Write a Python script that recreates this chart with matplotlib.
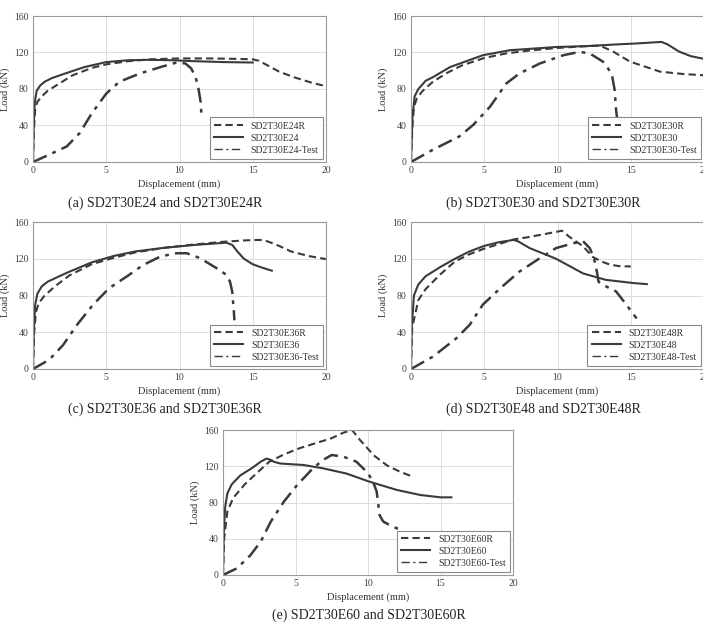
import matplotlib
matplotlib.use("Agg")
from matplotlib import pyplot as plt

# (a) E24
a_r_x = [0, 0.06, 0.15, 0.3, 0.6, 1, 1.8, 2.7, 4, 5, 6.5, 8, 10, 12, 14, 15, 15.4, 16, 16.8, 17.8, 19, 20]
a_r_y = [0, 35, 58, 66, 72, 78, 86, 95, 103, 107, 110.5, 112.5, 113.5, 113.5, 113, 112.5, 111, 106, 99, 93, 87, 83]
a_s_x = [0, 0.05, 0.12, 0.25, 0.5, 0.8, 1.3, 2.2, 3.5, 5, 6.5, 8, 9.5, 11, 13, 15]
a_s_y = [0, 40, 65, 78, 84, 88, 92, 97, 104, 109.5, 111.5, 112, 111.5, 110.5, 109.5, 109]
a_t_x = [0, 1.1, 2.3, 3.2, 4.0, 5.0, 5.9, 7.3, 8.7, 9.8, 10.4, 10.8, 11.1, 11.3, 11.45, 11.5]
a_t_y = [0, 8, 17, 32, 53, 75, 88, 97, 104, 109, 108, 102.5, 93, 80, 65, 50]

# (b) E30
b_r_x = [0, 0.1, 0.2, 0.4, 0.8, 1.5, 2.5, 3.5, 5, 6.5, 8, 10, 12, 12.9, 13.8, 14.95, 17, 18.6, 20]
b_r_y = [0, 40, 60, 70, 78, 88, 98, 106, 114, 119, 122, 125, 127, 127.5, 121, 110, 99, 96.4, 95]
b_s_x = [0, 0.1, 0.25, 0.5, 1, 1.5, 2.66, 4.9, 6.75, 9.9, 12, 13.6, 15.5, 17.1, 17.5, 18.3, 19.1, 20]
b_s_y = [0, 50, 72, 80, 89, 93, 104, 117, 122.5, 126, 127, 128.5, 130, 131.6, 129, 121, 116, 113]
b_t_x = [0, 1.5, 3.3, 4.25, 5.4, 6.5, 7.4, 8.8, 10.4, 11.5, 12.2, 13.1, 13.7, 13.9, 14.0, 14.2, 14.4]
b_t_y = [0, 13.5, 28, 40.7, 60.7, 86, 97, 108, 117, 120.7, 119, 110, 97, 79, 57, 30, 3]

# (c) E36
c_r_x = [0, 0.08, 0.2, 0.4, 0.8, 1.5, 2.5, 4, 5.5, 7, 9, 11, 13, 14.5, 15.5, 16, 16.8, 17.6, 18.8, 20]
c_r_y = [0, 40, 62, 72, 80, 90, 102, 114, 121, 127, 132, 135.5, 138.5, 140, 140.5, 139, 134, 128, 123, 119.6]
c_s_x = [0, 0.05, 0.15, 0.3, 0.6, 1, 1.8, 2.5, 4, 5.5, 7, 9, 11, 13.2, 13.6, 14, 14.4, 15, 15.6, 16.3]
c_s_y = [0, 40, 70, 82, 90, 95, 101, 106, 116, 123, 128, 132, 135, 137.5, 135, 127, 120, 114, 110.5, 107]
c_t_x = [0, 1.1, 2.05, 3.0, 4.1, 5.2, 6.4, 7.5, 8.7, 9.8, 10.5, 11.4, 12.5, 13.2, 13.45, 13.6, 13.7, 13.75]
c_t_y = [0, 10, 26, 48, 70, 88, 100.7, 113, 122.5, 126, 126, 120.7, 110, 102.5, 95, 84, 65, 53]

# (d) E48
d_r_x = [0, 0.08, 0.5, 1, 2, 3, 4, 5, 6, 7, 8, 9, 10, 10.3, 10.8, 11.75, 12.4, 13, 13.6, 14.2, 15]
d_r_y = [0, 45, 75, 87, 103, 117, 125, 131, 136, 141, 143.5, 146.5, 149.5, 150.5, 144, 133.5, 122, 117, 113.5, 112, 111.6]
d_s_x = [0, 0.05, 0.2, 0.5, 1, 2, 3, 4, 5, 6, 7, 7.3, 8.1, 9.9, 11.75, 13.3, 15.2, 16.1]
d_s_y = [0, 45, 80, 92, 101, 111, 120, 128, 134, 138, 140.5, 139, 131.6, 120, 104, 97, 93.5, 92.4]
d_t_x = [0, 1.5, 3.1, 4.0, 4.9, 6.1, 7.4, 8.8, 9.9, 11.1, 11.75, 12.2, 12.5, 12.7, 12.8, 13.1, 14.0, 14.7, 15.4]
d_t_y = [0, 13.5, 33.5, 48, 70, 88, 106, 120.7, 131.6, 137, 139, 131.6, 120, 105, 95, 91.6, 84.4, 70, 55]

# (e) E60
e_r_x = [0, 0.08, 0.3, 0.7, 1.5, 2.5, 3.2, 4.2, 5.3, 6.5, 7.5, 8.3, 8.9, 9.45, 10.4, 11.3, 12.2, 13.0]
e_r_y = [0, 40, 70, 85, 100, 115, 125, 133, 140, 146, 151, 157, 160, 149, 132, 121, 114, 109]
e_s_x = [0, 0.05, 0.15, 0.3, 0.6, 1.2, 2, 2.6, 3.0, 3.3, 3.5, 3.95, 5.55, 6.9, 8.5, 10.1, 12.0, 13.6, 15.0, 15.75]
e_s_y = [0, 45, 75, 90, 100, 110, 118, 125, 128.5, 127, 125, 123, 121.4, 117.7, 112, 103, 93.8, 88.3, 85.7, 85.7]
e_t_x = [0, 0.96, 1.9, 2.6, 3.3, 4.2, 5.1, 6.2, 6.9, 7.5, 8.3, 9.2, 9.9, 10.3, 10.6, 10.8, 11.05, 11.7, 12.3]
e_t_y = [0, 7.4, 22, 36.8, 59, 81, 99, 117.7, 127, 132.4, 130.6, 125, 114, 105, 92, 66, 59, 53.3, 49.7]

names = ["E24", "E30", "E36", "E48", "E60"]
letters = ["a", "b", "c", "d", "e"]
curves = [
  (a_r_x, a_r_y, a_s_x, a_s_y, a_t_x, a_t_y),
  (b_r_x, b_r_y, b_s_x, b_s_y, b_t_x, b_t_y),
  (c_r_x, c_r_y, c_s_x, c_s_y, c_t_x, c_t_y),
  (d_r_x, d_r_y, d_s_x, d_s_y, d_t_x, d_t_y),
  (e_r_x, e_r_y, e_s_x, e_s_y, e_t_x, e_t_y),
]
x_ticks = [0, 5, 10, 15, 20]
y_ticks = [0, 40, 80, 120, 160]

W, H = 703, 622
# axes boxes in pixels: left, top, width, height
boxes = [(33, 16, 293, 146), (411, 16, 293, 146),
         (33, 222, 293, 147), (411, 222, 293, 147),
         (223, 430, 290, 145)]
captions = [(165, 203), (543, 203), (165, 409), (543, 409), (369, 615)]

LC = "#3a3a3a"


def draw_panel(fig, box, data, name):
  l, t, w, h = box
  ax = fig.add_axes([l / W, (H - t - h) / H, w / W, h / H])
  rx, ry, sx, sy, tx, ty = data
  ax.plot(rx, ry, color=LC, lw=1.5, dashes=(3.5, 2), label="SD2T30%sR" % name)
  ax.plot(sx, sy, color=LC, lw=1.5, label="SD2T30%s" % name)
  ax.plot(tx, ty, color=LC, lw=1.8, dashes=(6, 2.5, 1.5, 2.5), label="SD2T30%s-Test" % name)
  ax.set_xlim(0, 20)
  ax.set_ylim(0, 160)
  ax.set_xticks(x_ticks)
  ax.set_yticks(y_ticks)
  ax.grid(True, color="#dcdcdc", lw=0.7)
  ax.set_axisbelow(True)
  ax.tick_params(length=0, labelsize=7, colors="#404040", pad=3)
  for s in ax.spines.values():
    s.set_color("#9a9a9a")
    s.set_linewidth(0.8)
  ax.set_xlabel("Displacement (mm)", fontsize=7.5, color="#333333", labelpad=3)
  ax.set_ylabel("Load (kN)", fontsize=7.5, color="#333333", labelpad=3)
  leg = ax.legend(loc="lower right", fontsize=7, handlelength=3.0,
                  borderaxespad=0.3, fancybox=False, framealpha=1,
                  labelspacing=0.3, borderpad=0.45)
  leg.get_frame().set_edgecolor("#8a8a8a")
  leg.get_frame().set_linewidth(0.8)
  for txt in leg.get_texts():
    txt.set_color("#333333")
  # legend sample of the test line is thinner than the plotted one
  leg.get_lines()[2].set_linewidth(1.0)
  return ax


def main():
  plt.rcParams['font.family'] = ['Liberation Serif', 'DejaVu Serif']
  fig = plt.figure(figsize=(W / 100, H / 100), dpi=100)
  for i in range(5):
    draw_panel(fig, boxes[i], curves[i], names[i])
    cx, cy = captions[i]
    fig.text(cx / W, 1 - cy / H, "(%s) SD2T30%s and SD2T30%sR" % (letters[i], names[i], names[i]),
             ha="center", va="center", fontsize=10, color="#222222")
  fig.savefig("out.png", dpi=100)


if __name__ == '__main__':
  main()
